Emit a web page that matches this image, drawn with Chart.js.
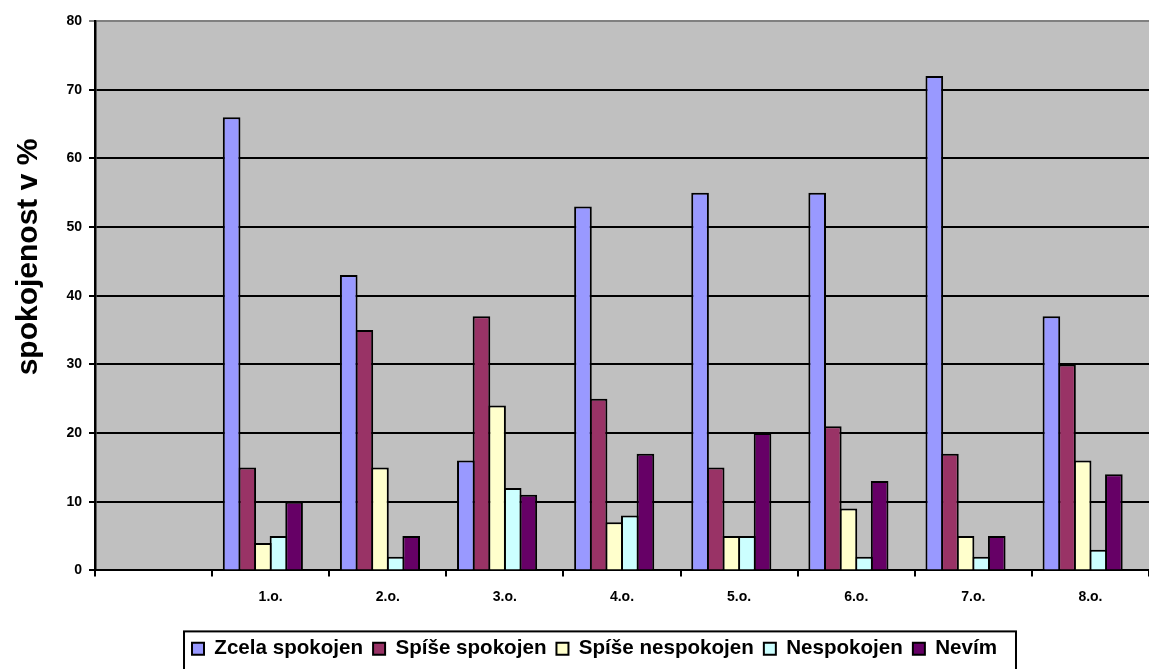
<!DOCTYPE html>
<html>
<head>
<meta charset="utf-8">
<script src="https://cdn.jsdelivr.net/npm/chart.js@4.4.1/dist/chart.umd.min.js"></script>
<style>
	html, body { margin: 0; padding: 0; background: #ffffff; overflow: hidden; }
	#wrap { width: 1149px; height: 669px; position: relative; }
</style>
</head>
<body>
<div id="wrap"><canvas id="satisfactionChart"></canvas></div>
<script>
// data
const classLabels = ["", "1.o.", "2.o.", "3.o.", "4.o.", "5.o.", "6.o.", "7.o.", "8.o."];
const zcelaSpokojen = [null, 66, 43, 16, 53, 55, 55, 72, 37];
const spiseSpokojen = [null, 15, 35, 37, 25, 15, 21, 17, 30];
const spiseNespokojen = [null, 4, 15, 24, 7, 5, 9, 5, 16];
const nespokojen = [null, 5, 2, 12, 8, 5, 2, 2, 3];
const nevim = [null, 10, 5, 11, 17, 20, 13, 5, 14];
const emptySeries = [null, null, null, null, null, null, null, null, null];
const yTicks = [0, 10, 20, 30, 40, 50, 60, 70, 80];

const boldFont = "'Liberation Sans', Arial, sans-serif";
Chart.defaults.font.family = boldFont;
Chart.defaults.font.weight = "bold";
Chart.defaults.color = "#000000";

function barSet(label, data, color) {
	return {
		label: label,
		data: data,
		backgroundColor: color,
		borderColor: "#000000",
		borderWidth: 2,
		borderSkipped: "bottom",
		barPercentage: 1.13,
		categoryPercentage: 0.8,
	};
}

// gray plot area
const plotBackground = {
	id: "plotBackground",
	beforeDraw(chart) {
		const a = chart.chartArea;
		const ctx = chart.ctx;
		ctx.save();
		ctx.fillStyle = "#c0c0c0";
		ctx.fillRect(a.left, a.top, a.right - a.left, a.bottom - a.top);
		ctx.restore();
	},
};

// rotated axis title and legend frame
const extras = {
	id: "extras",
	afterDraw(chart) {
		const ctx = chart.ctx;
		ctx.save();
		ctx.translate(29, 257);
		ctx.rotate(-Math.PI / 2);
		ctx.font = "bold 30px " + boldFont;
		ctx.fillStyle = "#000000";
		ctx.textAlign = "center";
		ctx.textBaseline = "middle";
		ctx.fillText("spokojenost v %", 0, 0);
		ctx.restore();

		const boxes = chart.legend.legendHitBoxes;
		if (boxes && boxes.length) {
			let left = Infinity, right = -Infinity;
			boxes.forEach((b) => {
				left = Math.min(left, b.left);
				right = Math.max(right, b.left + b.width);
			});
			const top = boxes[0].top - 7;
			ctx.save();
			ctx.strokeStyle = "#000000";
			ctx.lineWidth = 2;
			ctx.strokeRect(left - 8, top, right - left + 27, 60);
			ctx.restore();
		}
	},
};

const satisfactionChart = new Chart(document.getElementById("satisfactionChart"), {
	type: "bar",
	data: {
		labels: classLabels,
		datasets: [
			barSet("Zcela spokojen", zcelaSpokojen, "#9999ff"),
			barSet("Spíše spokojen", spiseSpokojen, "#993366"),
			barSet("Spíše nespokojen", spiseNespokojen, "#ffffcc"),
			barSet("Nespokojen", nespokojen, "#ccffff"),
			barSet("Nevím", nevim, "#660066"),
			barSet("", emptySeries, "rgba(0,0,0,0)"),
		],
	},
	plugins: [plotBackground, extras],
	options: {
		responsive: true,
		maintainAspectRatio: false,
		animation: false,
		layout: { padding: { left: 40, top: 21, right: 0, bottom: 0 } },
		plugins: {
			tooltip: { enabled: false },
			legend: {
				position: "bottom",
				labels: {
					filter: (item) => item.text !== "",
					font: { size: 20.6, weight: "bold" },
					boxWidth: 12,
					boxHeight: 12,
					padding: 10,
					color: "#000000",
				},
			},
		},
		scales: {
			x: {
				afterFit: (scale) => { scale.height = 58; },
				grid: {
					offset: true,
					drawOnChartArea: false,
					drawTicks: true,
					tickLength: 6,
					color: "#000000",
					lineWidth: 2,
				},
				border: { color: "#000000", width: 2 },
				ticks: {
					padding: 12,
					font: { size: 14, weight: "bold" },
					color: "#000000",
					maxRotation: 0,
				},
			},
			y: {
				min: 0,
				max: 80,
				afterFit: (scale) => { scale.width = 55; },
				afterBuildTicks: (scale) => {
					scale.ticks = yTicks.map((v) => ({ value: v }));
				},
				grid: {
					color: (c) => (c.tick && c.tick.value === 80 ? "#808080" : "#000000"),
					lineWidth: 2,
					tickLength: 6,
				},
				border: { color: "#000000", width: 2.5 },
				ticks: {
					padding: 7,
					font: { size: 14, weight: "bold" },
					color: "#000000",
				},
			},
		},
	},
});
</script>
</body>
</html>
